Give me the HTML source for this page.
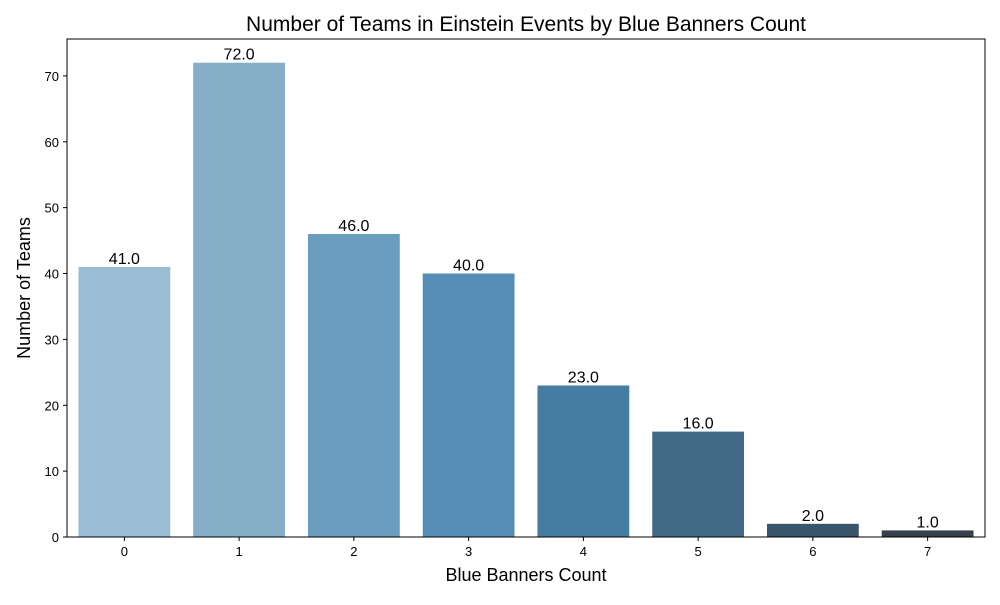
<!DOCTYPE html>
<html><head><meta charset="utf-8"><style>
body{margin:0;background:#fff;}
svg text{font-family:"Liberation Sans",sans-serif;}
</style></head><body>
<svg id="chart" width="1000" height="600" xmlns="http://www.w3.org/2000/svg">
<rect width="1000" height="600" fill="#fff"/>
<text x="526" y="31" font-size="21" text-anchor="middle">Number of Teams in Einstein Events by Blue Banners Count</text>
<text x="526" y="581" font-size="18" text-anchor="middle">Blue Banners Count</text>
<text transform="translate(30,288) rotate(-90)" font-size="18" text-anchor="middle">Number of Teams</text>
<g id="bars"></g><g id="axes"></g>
</svg>
<script>
const categories=["0","1","2","3","4","5","6","7"];
const values=[41,72,46,40,23,16,2,1];
const yTicks=[0,10,20,30,40,50,60,70];
const colors=["#9bbdd4","#86aec9","#6a9dbf","#558db6","#457ca1","#426a86","#3b566b","#35414c"];
const L=67,R=985,T=39,B=537;
const ymax=Math.max(...values)*1.05;
const n=categories.length;
const xs=i=>L+(i+0.5)*(R-L)/n;
const ys=v=>B-v*(B-T)/ymax;
const bw=0.8*(R-L)/n;
const NS="http://www.w3.org/2000/svg";
const bars=document.getElementById('bars'),axes=document.getElementById('axes');
function mk(tag,attrs,parent){const e=document.createElementNS(NS,tag);for(const k in attrs)e.setAttribute(k,attrs[k]);parent.appendChild(e);return e;}
values.forEach((v,i)=>{
 const r=mk('rect',{x:xs(i)-bw/2,y:ys(v),width:bw,height:B-ys(v),fill:colors[i%colors.length]},bars);
 
 
 const t=mk('text',{x:xs(i),y:ys(v)-3,'font-size':16,'text-anchor':'middle'},bars);
 t.textContent=v.toFixed(1);
 
 
 mk('line',{x1:xs(i),x2:xs(i),y1:B,y2:B+4,stroke:'#000'},axes);
 const xt=mk('text',{x:xs(i),y:B+19,'font-size':13,'text-anchor':'middle'},axes);
 xt.textContent=categories[i];
 
 
});
yTicks.forEach(v=>{
 mk('line',{x1:L-4,x2:L,y1:ys(v),y2:ys(v),stroke:'#000'},axes);
 const t=mk('text',{x:L-8,y:ys(v)+5,'font-size':13,'text-anchor':'end'},axes);
 t.textContent=v;
 
 
});
const f=mk('rect',{x:L,y:T,width:R-L,height:B-T,fill:'none',stroke:'#000','stroke-width':1},axes);


</script>
</body></html>
